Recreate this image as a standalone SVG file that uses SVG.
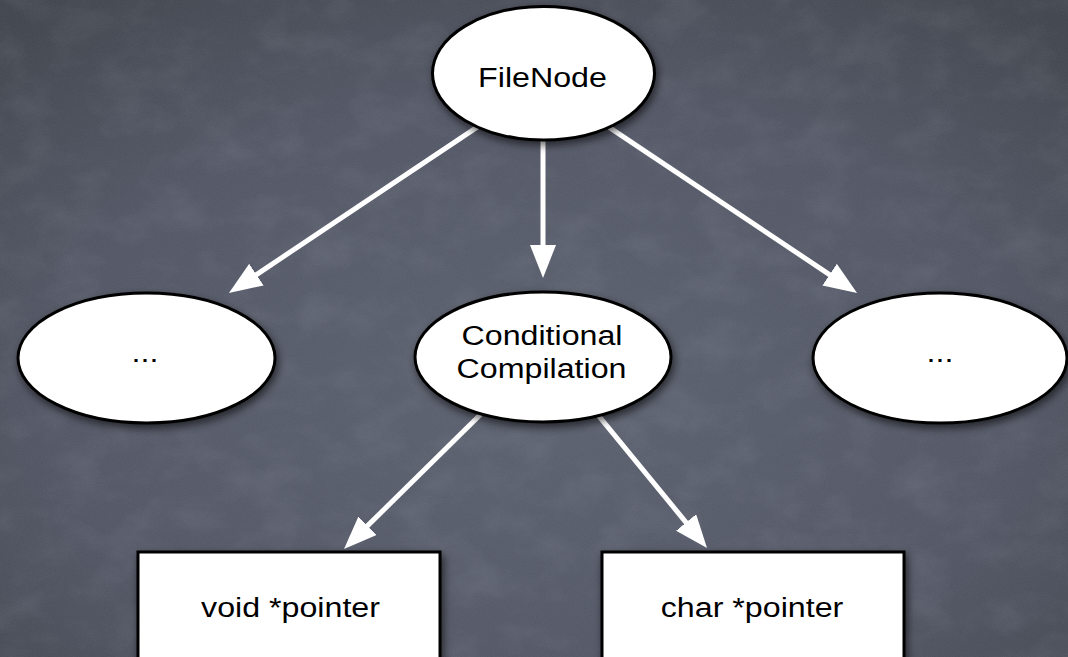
<svg xmlns="http://www.w3.org/2000/svg" width="1068" height="657" viewBox="0 0 1068 657">
  <defs>
    <radialGradient id="board" cx="0.5" cy="0.6" r="0.75">
      <stop offset="0" stop-color="#5d6270"/>
      <stop offset="0.6" stop-color="#545866"/>
      <stop offset="1" stop-color="#42464e"/>
    </radialGradient>
    <!-- chalk dust mottling -->
    <filter id="chalk" x="0" y="0" width="100%" height="100%">
      <feTurbulence type="fractalNoise" baseFrequency="0.02 0.03" numOctaves="4" seed="7" result="n"/>
      <feColorMatrix in="n" type="matrix" values="0 0 0 0 0.75  0 0 0 0 0.78  0 0 0 0 0.85  0 0 0 1.2 -0.5"/>
    </filter>
    <filter id="grain" x="0" y="0" width="100%" height="100%">
      <feTurbulence type="fractalNoise" baseFrequency="0.9" numOctaves="2" seed="3" result="g"/>
      <feColorMatrix in="g" type="matrix" values="0 0 0 0 0.5  0 0 0 0 0.52  0 0 0 0 0.58  0 0 0 0.5 -0.1"/>
    </filter>
    <filter id="shadow" x="-20%" y="-20%" width="140%" height="150%">
      <feDropShadow dx="2" dy="4" stdDeviation="4" flood-color="#000" flood-opacity="0.6"/>
    </filter>
    <marker id="head" viewBox="0 0 33 26" markerWidth="33" markerHeight="26" refX="3" refY="13" orient="auto" markerUnits="userSpaceOnUse">
      <path d="M0,0 L33,13 L0,26 z" fill="#fff"/>
    </marker>
    <style>
      .node { fill: #fff; stroke: #000; stroke-width: 3; filter: url(#shadow); }
      .edge { fill: none; stroke: #fff; stroke-width: 5; marker-end: url(#head); }
      .lbl { font-family: "Liberation Sans", Arial, Helvetica, sans-serif; font-size: 28px; fill: #000; text-anchor: middle; }
    </style>
  </defs>

  <!-- chalkboard -->
  <rect x="0" y="0" width="1068" height="657" fill="url(#board)"/>
  <rect x="0" y="0" width="1068" height="657" filter="url(#chalk)" opacity="0.12"/>
  <rect x="0" y="0" width="1068" height="657" filter="url(#grain)" opacity="0.2"/>

  <g id="connectors">
    <line class="edge" x1="478.3" y1="126.4" x2="253.9" y2="276.3"/>
    <line class="edge" x1="543" y1="130" x2="543" y2="248"/>
    <line class="edge" x1="607.7" y1="126.4" x2="832.1" y2="276.3"/>
    <line class="edge" x1="487.1" y1="408" x2="365.4" y2="527.9"/>
    <line class="edge" x1="591.7" y1="407.3" x2="688" y2="524.8"/>
  </g>

  <g id="filenode">
    <ellipse class="node" cx="543.5" cy="73.3" rx="111" ry="66.7"/>
    <text class="lbl" transform="translate(542.5,87) scale(1.15,1)">FileNode</text>
  </g>

  <g id="other-left">
    <ellipse class="node" cx="146.5" cy="358" rx="128.5" ry="65"/>
    <text class="lbl" transform="translate(145,362) scale(1.15,1)">...</text>
  </g>

  <g id="conditional">
    <ellipse class="node" cx="543" cy="357" rx="128" ry="65"/>
    <text class="lbl" transform="translate(542,345) scale(1.15,1)">Conditional</text>
    <text class="lbl" transform="translate(541.5,378) scale(1.15,1)">Compilation</text>
  </g>

  <g id="other-right">
    <ellipse class="node" cx="940" cy="358" rx="127" ry="65"/>
    <text class="lbl" transform="translate(940,362) scale(1.15,1)">...</text>
  </g>

  <g id="void-pointer">
    <rect class="node" x="138" y="552" width="302" height="130"/>
    <text class="lbl" transform="translate(290.5,617) scale(1.15,1)">void *pointer</text>
  </g>

  <g id="char-pointer">
    <rect class="node" x="602" y="552" width="302" height="130"/>
    <text class="lbl" transform="translate(752,617) scale(1.15,1)">char *pointer</text>
  </g>
</svg>
